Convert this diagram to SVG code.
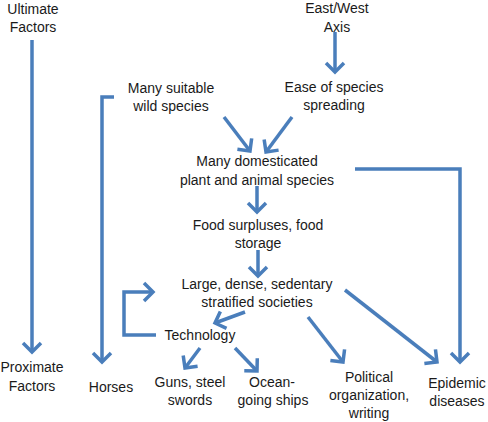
<svg xmlns="http://www.w3.org/2000/svg" width="488" height="422" viewBox="0 0 488 422">
<defs>
<style>
text{font-family:"Liberation Sans",Arial,sans-serif;font-size:14px;fill:#1a1a1a;text-anchor:middle}
.c{fill:none;stroke:#4A7EBB;stroke-width:3.5;stroke-linejoin:miter}
</style>
<marker id="ah" markerUnits="userSpaceOnUse" viewBox="-14 -12 18 24" markerWidth="18" markerHeight="24" refX="0" refY="0" orient="auto">
<path d="M-9,-9 L0,0 L-9,9" fill="none" stroke="#4A7EBB" stroke-width="3.5"/>
</marker>
</defs>
<rect width="488" height="422" fill="#ffffff"/>
<g id="connectors">
<path class="c" d="M32,40 V352" marker-end="url(#ah)"/>
<path class="c" d="M114,97 H102 V362" marker-end="url(#ah)"/>
<path class="c" d="M335,32 V72" marker-end="url(#ah)"/>
<path class="c" d="M224,117 L250,151" marker-end="url(#ah)"/>
<path class="c" d="M292,117 L266,152" marker-end="url(#ah)"/>
<path class="c" d="M257,186 V212" marker-end="url(#ah)"/>
<path class="c" d="M258,250 V276" marker-end="url(#ah)"/>
<path class="c" d="M156,335 H124 V292 H153" marker-end="url(#ah)"/>
<path class="c" d="M245,312 L215,323" marker-end="url(#ah)"/>
<path class="c" d="M200,348 L185,368" marker-end="url(#ah)"/>
<path class="c" d="M235,348 L257,371" marker-end="url(#ah)"/>
<path class="c" d="M308,317 L343,362" marker-end="url(#ah)"/>
<path class="c" d="M345,290 L437,362" marker-end="url(#ah)"/>
<path class="c" d="M355,169 H460 V362" marker-end="url(#ah)"/>
</g>
<g id="ultimate"><text x="33" y="14">Ultimate</text><text x="33" y="32">Factors</text></g>
<g id="eastwest"><text x="337" y="13">East/West</text><text x="337" y="32">Axis</text></g>
<g id="wild"><text x="171" y="93">Many suitable</text><text x="171" y="111">wild species</text></g>
<g id="ease"><text x="334" y="92">Ease of species</text><text x="334" y="110">spreading</text></g>
<g id="domesticated"><text x="257" y="166">Many domesticated</text><text x="257" y="185">plant and animal species</text></g>
<g id="food"><text x="258" y="230">Food surpluses, food</text><text x="258" y="248">storage</text></g>
<g id="societies"><text x="257" y="289">Large, dense, sedentary</text><text x="257" y="307">stratified societies</text></g>
<g id="technology"><text x="200" y="340">Technology</text></g>
<g id="proximate"><text x="32" y="372">Proximate</text><text x="32" y="391">Factors</text></g>
<g id="horses"><text x="111" y="392">Horses</text></g>
<g id="guns"><text x="190" y="387">Guns, steel</text><text x="190" y="405">swords</text></g>
<g id="ships"><text x="272" y="387">Ocean-</text><text x="273" y="405">going ships</text></g>
<g id="political"><text x="369" y="382">Political</text><text x="369" y="400">organization,</text><text x="369" y="418">writing</text></g>
<g id="epidemic"><text x="457" y="388">Epidemic</text><text x="457" y="406">diseases</text></g>
</svg>
